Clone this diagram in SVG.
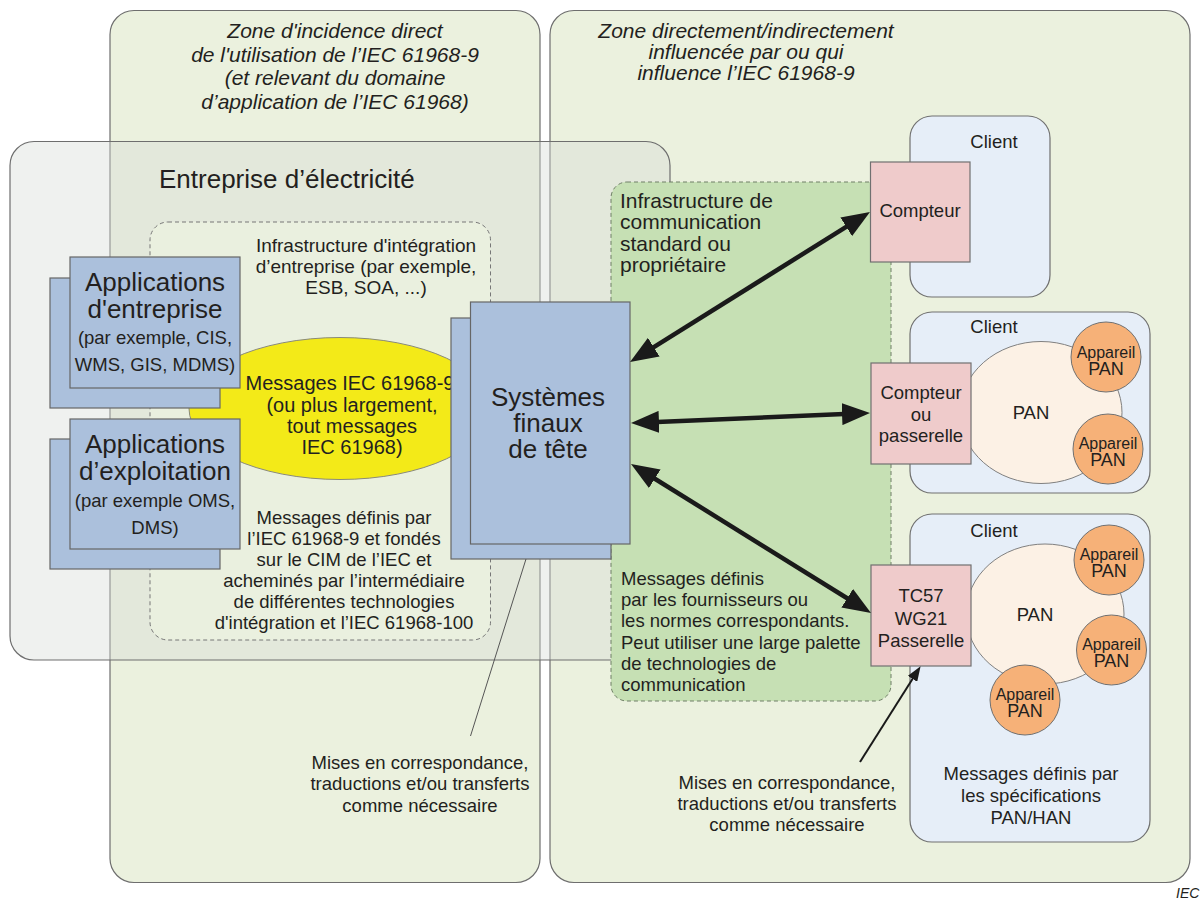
<svg xmlns="http://www.w3.org/2000/svg" width="1202" height="899" viewBox="0 0 1202 899">
<defs>
<style>
text{font-family:"Liberation Sans",Arial,sans-serif;fill:#231f20;}
.t{font-size:18.5px;}
.tm{font-size:21px;}
.te{font-size:20px;}
.tb{font-size:26px;}
.ti{font-size:21px;font-style:italic;}
.c{text-anchor:middle;}
.zone{fill:#ebf1de;stroke:#6e6e6e;stroke-width:1.2;}
.app{fill:#abc0dc;stroke:#666;stroke-width:1.2;}
.client{fill:#e6eef8;stroke:#707070;stroke-width:1.2;}
.meter{fill:#efcbcb;stroke:#707070;stroke-width:1.2;}
.pan{fill:#fcf1e5;stroke:#808080;stroke-width:1;}
.dev{fill:#f6b178;stroke:#707070;stroke-width:1;}
.dev-a{font-size:16px;}
.dev-p{font-size:18px;}
.thick{stroke:#1a1a1a;stroke-width:4.5;fill:none;marker-start:url(#ah);marker-end:url(#ah);}
</style>
<marker id="ah" markerUnits="userSpaceOnUse" markerWidth="28" markerHeight="22" refX="8" refY="11" orient="auto-start-reverse" viewBox="0 0 28 22">
<path d="M0,0 L28,11 L0,22 z" fill="#1a1a1a"/>
</marker>
<marker id="ahs" markerUnits="userSpaceOnUse" markerWidth="15" markerHeight="11" refX="4" refY="5.5" orient="auto" viewBox="0 0 15 11">
<path d="M0,0 L15,5.5 L0,11 z" fill="#1a1a1a"/>
</marker>
</defs>
<rect width="1202" height="899" fill="#ffffff"/>

<g id="zone-direct">
<rect class="zone" x="110" y="10.5" width="430" height="872" rx="24"/>
<text class="ti c" x="335" y="38">Zone d'incidence direct</text>
<text class="ti c" x="335" y="61.5">de l'utilisation de l’IEC 61968-9</text>
<text class="ti c" x="335" y="85">(et relevant du domaine</text>
<text class="ti c" x="335" y="108.5">d’application de l’IEC 61968)</text>
</g>

<g id="zone-indirect">
<rect class="zone" x="550" y="10.5" width="640" height="872" rx="24"/>
<text class="ti c" x="746" y="37.5">Zone directement/indirectement</text>
<text class="ti c" x="746" y="58.5">influencée par ou qui</text>
<text class="ti c" x="746" y="79.5">influence l’IEC 61968-9</text>
</g>

<g id="entreprise">
<rect x="10" y="141.5" width="660" height="518.5" rx="24" fill="#d8dbd8" fill-opacity="0.4" stroke="#6e6e6e" stroke-width="1.2"/>
<text x="159" y="188" style="font-size:26px">Entreprise d’électricité</text>
</g>

<g id="integration">
<rect x="150" y="222" width="340.5" height="418" rx="18" fill="#eaf0df" stroke="#777" stroke-width="1" stroke-dasharray="4,3"/>
<text class="t c" x="366" y="252" style="font-size:19px">Infrastructure d'intégration</text>
<text class="t c" x="366" y="273" style="font-size:19px">d’entreprise (par exemple,</text>
<text class="t c" x="366" y="293.5" style="font-size:19px">ESB, SOA, ...)</text>
<text class="t c" x="344" y="523.5">Messages définis par</text>
<text class="t c" x="344" y="544.5">l’IEC 61968-9 et fondés</text>
<text class="t c" x="344" y="565.5">sur le CIM de l’IEC et</text>
<text class="t c" x="344" y="586.5">acheminés par l’intermédiaire</text>
<text class="t c" x="344" y="607.5">de différentes technologies</text>
<text class="t c" x="344" y="628.5">d'intégration et l’IEC 61968-100</text>
</g>

<g id="comm-infra">
<rect x="611" y="182" width="280" height="519" rx="16" fill="#c6e0b4" stroke="#6f7f66" stroke-width="1" stroke-dasharray="4,3"/>
<text class="tm" x="620" y="207.5">Infrastructure de</text>
<text class="tm" x="620" y="229">communication</text>
<text class="tm" x="620" y="250.5">standard ou</text>
<text class="tm" x="620" y="272">propriétaire</text>
<text class="t" x="621" y="585">Messages définis</text>
<text class="t" x="621" y="606.2">par les fournisseurs ou</text>
<text class="t" x="621" y="627.4">les normes correspondants.</text>
<text class="t" x="621" y="648.6">Peut utiliser une large palette</text>
<text class="t" x="621" y="669.8">de technologies de</text>
<text class="t" x="621" y="691">communication</text>
</g>

<g id="messages">
<ellipse cx="340" cy="408.5" rx="151" ry="71" fill="#f3ea18" stroke="#8a8a7a" stroke-width="1"/>
<text class="te c" x="350" y="390">Messages IEC 61968-9</text>
<text class="te c" x="352" y="411.5">(ou plus largement,</text>
<text class="te c" x="352" y="432.5">tout messages</text>
<text class="te c" x="352" y="454">IEC 61968)</text>
</g>

<g id="app-entreprise">
<rect class="app" x="50" y="278" width="170" height="130"/>
<rect class="app" x="70" y="257" width="170" height="131"/>
<text class="tb c" x="155" y="291">Applications</text>
<text class="tb c" x="155" y="318">d'entreprise</text>
<text class="t c" x="155" y="344">(par exemple, CIS,</text>
<text class="t c" x="155" y="371">WMS, GIS, MDMS)</text>
</g>

<g id="app-exploitation">
<rect class="app" x="50" y="439" width="170" height="130"/>
<rect class="app" x="70" y="419" width="170" height="130"/>
<text class="tb c" x="155" y="453">Applications</text>
<text class="tb c" x="155" y="480">d’exploitation</text>
<text class="t c" x="155" y="507">(par exemple OMS,</text>
<text class="t c" x="155" y="533.5">DMS)</text>
</g>

<g id="systemes">
<rect class="app" x="451" y="318" width="160" height="241"/>
<rect class="app" x="470.5" y="302" width="159.5" height="242"/>
<text class="tb c" x="548" y="406">Systèmes</text>
<text class="tb c" x="548" y="432">finaux</text>
<text class="tb c" x="548" y="458">de tête</text>
</g>

<g id="client-1">
<rect class="client" x="910" y="116" width="140" height="181" rx="22"/>
<text class="t c" x="994" y="148">Client</text>
<rect class="meter" x="870.5" y="162" width="99.5" height="100"/>
<text class="t c" x="920" y="217">Compteur</text>
</g>

<g id="client-2">
<rect class="client" x="910" y="312" width="240" height="181" rx="22"/>
<text class="t c" x="994" y="333">Client</text>
<ellipse class="pan" cx="1041" cy="412.5" rx="81" ry="71"/>
<text class="t c" x="1031" y="419">PAN</text>
<rect class="meter" x="871" y="363" width="100" height="101"/>
<text class="t c" x="921" y="399">Compteur</text>
<text class="t c" x="921" y="420.5">ou</text>
<text class="t c" x="921" y="441.5">passerelle</text>
<circle class="dev" cx="1106" cy="357" r="35"/>
<text class="dev-a c" x="1106" y="358">Appareil</text>
<text class="dev-p c" x="1106" y="375">PAN</text>
<circle class="dev" cx="1108" cy="449" r="35"/>
<text class="dev-a c" x="1108" y="449">Appareil</text>
<text class="dev-p c" x="1108" y="466">PAN</text>
</g>

<g id="client-3">
<rect class="client" x="910" y="514" width="240" height="328" rx="22"/>
<text class="t c" x="994" y="537">Client</text>
<ellipse class="pan" cx="1045" cy="614" rx="79" ry="70"/>
<text class="t c" x="1035" y="620.5">PAN</text>
<rect class="meter" x="871" y="565" width="100" height="101"/>
<text class="t c" x="921" y="602">TC57</text>
<text class="t c" x="921" y="624.5">WG21</text>
<text class="t c" x="921" y="647">Passerelle</text>
<circle class="dev" cx="1109" cy="560" r="35"/>
<text class="dev-a c" x="1109" y="560">Appareil</text>
<text class="dev-p c" x="1109" y="577">PAN</text>
<circle class="dev" cx="1111.5" cy="650" r="35"/>
<text class="dev-a c" x="1111.5" y="650">Appareil</text>
<text class="dev-p c" x="1111.5" y="667">PAN</text>
<circle class="dev" cx="1025" cy="700" r="35"/>
<text class="dev-a c" x="1025" y="700">Appareil</text>
<text class="dev-p c" x="1025" y="717">PAN</text>
<text class="t c" x="1031" y="780">Messages définis par</text>
<text class="t c" x="1031" y="802">les spécifications</text>
<text class="t c" x="1031" y="824">PAN/HAN</text>
</g>

<g id="connectors">
<line class="thick" x1="647" y1="351.4" x2="853" y2="222.6"/>
<line class="thick" x1="651" y1="422.2" x2="850" y2="413.8"/>
<line class="thick" x1="648" y1="474.5" x2="854" y2="602.5"/>
<line x1="860" y1="762" x2="914.7" y2="675.5" stroke="#1a1a1a" stroke-width="2" marker-end="url(#ahs)"/>
<line x1="526" y1="559" x2="470.5" y2="736" stroke="#555" stroke-width="1"/>
</g>

<g id="notes">
<text class="t c" x="420" y="769">Mises en correspondance,</text>
<text class="t c" x="420" y="790">traductions et/ou transferts</text>
<text class="t c" x="420" y="811.5">comme nécessaire</text>
<text class="t c" x="787" y="789">Mises en correspondance,</text>
<text class="t c" x="787" y="810">traductions et/ou transferts</text>
<text class="t c" x="787" y="831">comme nécessaire</text>
<text x="1176" y="898" style="font-size:14px;font-style:italic">IEC</text>
</g>
</svg>
